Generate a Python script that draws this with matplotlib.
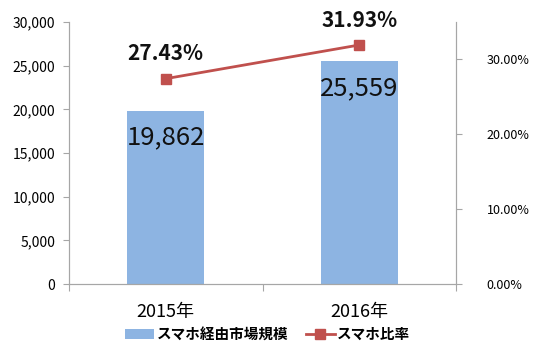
import matplotlib.pyplot as plt
import numpy as np

plt.rcParams['font.family'] = ['Noto Sans CJK JP', 'DejaVu Sans']

years = ['2015年', '2016年']
market = [19862, 25559]
ratio = [27.43, 31.93]

bar_color = '#8DB4E2'
line_color = '#C0504D'
axis_color = '#A6A6A6'

fig = plt.figure(figsize=(5.41, 3.63), dpi=100)
ax = fig.add_axes([0.1275, 0.2176, 0.7155, 0.7218])
ax2 = ax.twinx()

x = np.arange(len(years))
ax.bar(x, market, width=0.4, color=bar_color, label='スマホ経由市場規模', zorder=2)
ax2.plot(x, ratio, color=line_color, lw=2, marker='s', ms=7,
         label='スマホ比率', zorder=3)

for xi, v in zip(x, market):
    ax.text(xi, v - 3100, f'{v:,}', ha='center', va='center', fontsize=18.5,
            color='#111111')
for xi, v in zip(x, ratio):
    ax2.text(xi, v + 3.3, f'{v:.2f}%', ha='center', va='center', fontsize=15,
             fontweight='bold', color='#111111')

ax.set_xlim(-0.5, 1.5)
ax.set_ylim(0, 30000)
ax.set_yticks(np.arange(0, 30001, 5000))
ax.set_yticklabels([f'{t:,}' for t in range(0, 30001, 5000)])
ax2.set_ylim(0, 35)
ax2.set_yticks([0, 10, 20, 30])
ax2.set_yticklabels(['0.00%', '10.00%', '20.00%', '30.00%'])

ax.set_xticks([-0.5, 0.5, 1.5])
ax.set_xticklabels([])
ax.set_xticks(x, minor=True)
ax.set_xticklabels(years, minor=True, fontsize=13)
ax.tick_params(axis='x', which='minor', length=0, pad=14)
ax.tick_params(axis='x', which='major', length=5, color=axis_color)
ax.tick_params(axis='y', length=4, color=axis_color, labelsize=10, pad=6)
ax2.tick_params(axis='y', length=4, color=axis_color, labelsize=9, pad=18)

for a in (ax, ax2):
    a.spines['top'].set_visible(False)
    for s in ('left', 'right', 'bottom'):
        a.spines[s].set_color(axis_color)

h1, l1 = ax.get_legend_handles_labels()
h2, l2 = ax2.get_legend_handles_labels()
fig.legend(h1 + h2, l1 + l2, loc='center', bbox_to_anchor=(0.495, 0.08), ncol=2,
           frameon=False, prop={'weight': 'bold', 'size': 10.5},
           handlelength=2, handletextpad=0.15, columnspacing=1.2)

fig.savefig('out.png', dpi=100)
